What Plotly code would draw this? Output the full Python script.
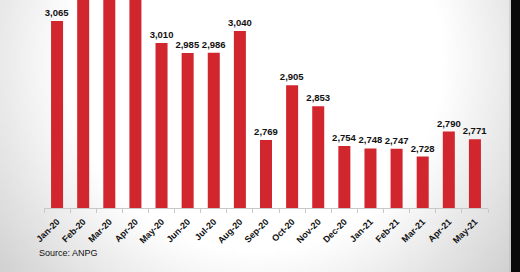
import plotly.graph_objects as go
import zlib, struct, base64, math

months = ["Jan-20", "Feb-20", "Mar-20", "Apr-20", "May-20", "Jun-20", "Jul-20", "Aug-20",
          "Sep-20", "Oct-20", "Nov-20", "Dec-20", "Jan-21", "Feb-21", "Mar-21", "Apr-21", "May-21"]
production = [3065, 3200, 3250, 3180, 3010, 2985, 2986, 3040,
              2769, 2905, 2853, 2754, 2748, 2747, 2728, 2790, 2771]
source_note = "Source: ANPG"

W, H = 520, 272
L, R, T, B = 44, 32, 0, 64
PW, PH = W - L - R, H - T - B


def gradient_png(w, h, scale):
    rows = []
    for j in range(h):
        row = bytearray([0])
        py = (j + 0.5) * scale
        for i in range(w):
            px = (i + 0.5) * scale
            d = math.sqrt(((px - 255) / 255) ** 2 + ((py - 60) / 260) ** 2)
            g = 255 - max(0.0, d - 0.75) * 85
            row.append(max(0, min(255, int(g))))
        rows.append(bytes(row))
    raw = b"".join(rows)

    def chunk(t, data):
        c = struct.pack(">I", len(data)) + t + data
        return c + struct.pack(">I", zlib.crc32(t + data) & 0xffffffff)

    png = b"\x89PNG\r\n\x1a\n"
    png += chunk(b"IHDR", struct.pack(">IIBBBBB", w, h, 8, 0, 0, 0, 0))
    png += chunk(b"IDAT", zlib.compress(raw, 9))
    png += chunk(b"IEND", b"")
    return "data:image/png;base64," + base64.b64encode(png).decode()


bg = gradient_png(130, 68, 4)

labels = [f"{v:,}" if v < 3117 else "" for v in production]

fig = go.Figure(go.Bar(
    x=months, y=production, text=labels, textposition="outside",
    constraintext="none",
    textfont=dict(family="Liberation Sans, Arial", size=9.5, color="#111111", weight="bold"),
    marker=dict(color="#d2262f", line=dict(width=0)),
    cliponaxis=True, width=0.46,
))

fig.update_layout(
    width=W, height=H,
    margin=dict(l=L, r=R, t=T, b=B),
    paper_bgcolor="white", plot_bgcolor="rgba(0,0,0,0)",
    showlegend=False,
    xaxis=dict(
        tickangle=-45, showgrid=False, showline=True, linecolor="#c8c8c8", linewidth=1,
        ticks="outside", tickson="boundaries", ticklen=4, tickcolor="#c8c8c8",
        ticklabelstandoff=4,
        tickfont=dict(family="Liberation Sans, Arial", size=9, color="#111111", weight="bold"),
        fixedrange=True,
    ),
    yaxis=dict(range=[2600, 3117], visible=False, fixedrange=True),
    images=[dict(
        source=bg, xref="paper", yref="paper",
        x=-L / PW, y=1 + T / PH, sizex=W / PW, sizey=H / PH,
        xanchor="left", yanchor="top", sizing="stretch", layer="below",
    )],
    shapes=[
        dict(type="rect", xref="paper", yref="paper",
             x0=(511 - L) / PW, x1=(521 - L) / PW, y0=-(B + 2) / PH, y1=1.02,
             fillcolor="#0a0a0a", line=dict(width=0), layer="above"),
        dict(type="line", xref="paper", yref="paper",
             x0=(510 - L) / PW, x1=(510 - L) / PW, y0=-(B + 2) / PH, y1=1.02,
             line=dict(color="#bdbdbd", width=1), layer="above"),
    ],
    annotations=[dict(
        text=source_note, xref="paper", yref="paper",
        x=(37 - L) / PW, y=(PH - 253) / PH, xanchor="left", yanchor="middle",
        showarrow=False, font=dict(family="Liberation Sans, Arial", size=9, color="#111111"),
    )],
)

fig.write_html("out.html", config={"displayModeBar": False})
